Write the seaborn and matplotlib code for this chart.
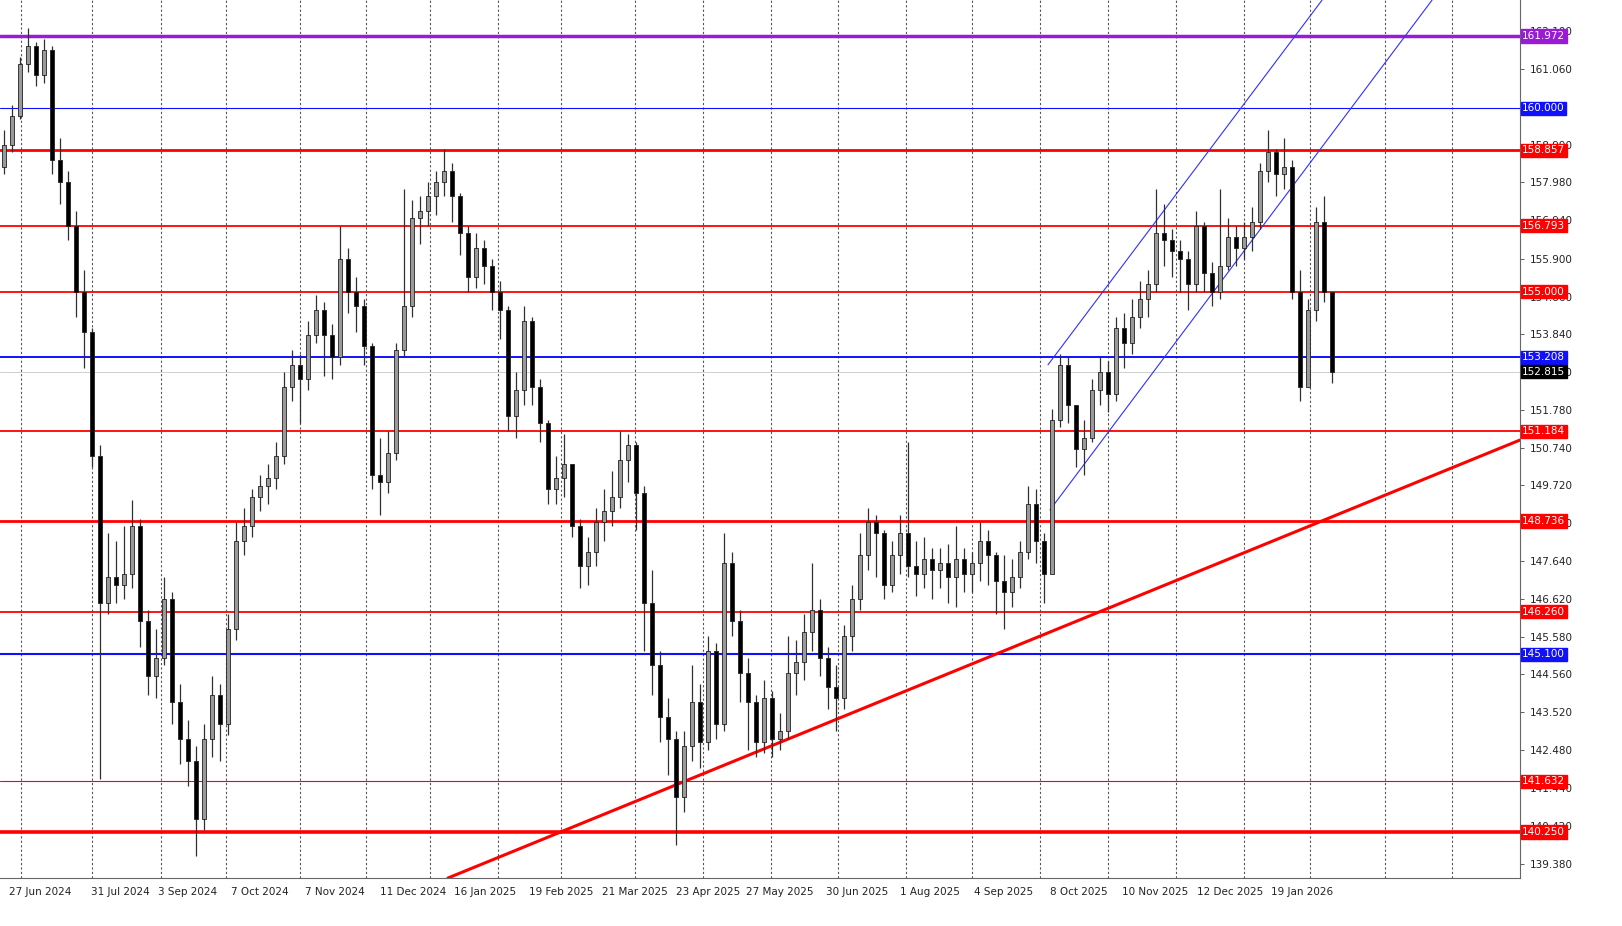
import numpy as np
import pandas as pd
import matplotlib
matplotlib.use("Agg")
import matplotlib.pyplot as plt
import matplotlib.transforms as mtransforms
import seaborn as sns

# candles (3-day bars), open = previous close
first_open = 158.4
closes = [159.0, 159.8, 161.2, 161.7, 160.9, 161.6, 158.6, 158.0, 156.8, 155.0,
          153.9, 150.5, 146.5, 147.2, 147.0, 147.3, 148.6, 146.0, 144.5, 145.0,
          146.6, 143.8, 142.8, 142.2, 140.6, 142.8, 144.0, 143.2, 145.8, 148.2,
          148.6, 149.4, 149.7, 149.9, 150.5, 152.4, 153.0, 152.6, 153.8, 154.5,
          153.8, 153.2, 155.9, 155.0, 154.6, 153.5, 150.0, 149.8, 150.6, 153.4,
          154.6, 157.0, 157.2, 157.6, 158.0, 158.3, 157.6, 156.6, 155.4, 156.2,
          155.7, 155.0, 154.5, 151.6, 152.3, 154.2, 152.4, 151.4, 149.6, 149.9,
          150.3, 148.6, 147.5, 147.9, 148.7, 149.0, 149.4, 150.4, 150.8, 149.5,
          146.5, 144.8, 143.4, 142.8, 141.2, 142.6, 143.8, 142.7, 145.2, 143.2,
          147.6, 146.0, 144.6, 143.8, 142.7, 143.9, 142.8, 143.0, 144.6, 144.9,
          145.7, 146.3, 145.0, 144.2, 143.9, 145.6, 146.6, 147.8, 148.7, 148.4,
          147.0, 147.8, 148.4, 147.5, 147.3, 147.7, 147.4, 147.6, 147.2, 147.7,
          147.3, 147.6, 148.2, 147.8, 147.1, 146.8, 147.2, 147.9, 149.2, 148.2,
          147.3, 151.5, 153.0, 151.9, 150.7, 151.0, 152.3, 152.8, 152.2, 154.0,
          153.6, 154.3, 154.8, 155.2, 156.6, 156.4, 156.1, 155.9, 155.2, 156.8,
          155.5, 155.0, 155.7, 156.5, 156.2, 156.5, 156.9, 158.3, 158.8, 158.2,
          158.4, 155.0, 152.4, 154.5, 156.9, 155.0, 152.815]
highs = [159.4, 160.1, 161.4, 162.2, 161.8, 161.9, 161.7, 159.2, 158.3, 157.2,
         155.6, 154.0, 150.8, 148.4, 148.2, 148.6, 149.3, 148.8, 146.3, 145.8,
         147.2, 146.8, 144.3, 143.3, 142.6, 143.2, 144.5, 144.3, 146.2, 148.7,
         149.1, 149.6, 150.0, 150.3, 150.9, 152.8, 153.4, 153.3, 154.2, 154.9,
         154.7, 154.1, 156.8, 156.2, 155.4, 154.8, 153.6, 151.0, 151.2, 153.6,
         157.8, 157.5, 157.6, 158.0, 158.3, 158.9, 158.5, 157.7, 156.8, 156.6,
         156.4, 155.9, 155.3, 154.6, 152.8, 154.6, 154.3, 152.6, 151.5, 150.5,
         151.1, 150.3, 148.8, 148.3, 149.1, 149.6, 150.1, 151.2, 151.1, 150.9,
         149.7, 147.4, 145.2, 143.9, 143.0, 143.0, 144.8, 144.3, 145.6, 145.4,
         148.4, 147.9, 146.3, 145.0, 144.0, 144.4, 144.1, 143.5, 145.6, 145.5,
         146.2, 147.6, 146.6, 145.3, 144.8, 145.9, 147.0, 148.4, 149.1, 148.9,
         148.5, 148.2, 148.9, 150.9, 148.2, 148.3, 148.0, 148.0, 148.1, 148.6,
         148.0, 147.9, 148.7, 148.5, 147.9, 147.8, 147.7, 148.2, 149.7, 149.6,
         148.4, 151.8, 153.3, 153.2, 151.8, 151.5, 152.6, 153.2, 153.1, 154.3,
         154.4, 154.8, 155.3, 155.6, 157.8, 157.4, 156.7, 156.4, 156.1, 157.2,
         156.9, 155.8, 157.8, 157.0, 156.8, 156.9, 157.3, 158.5, 159.4, 158.9,
         159.2, 158.6, 155.6, 154.8, 157.3, 157.6, 154.0]
lows = [158.2, 158.8, 159.7, 161.0, 160.6, 160.7, 158.2, 157.4, 156.4, 154.3,
        152.9, 150.2, 141.7, 146.2, 146.5, 146.6, 146.9, 145.3, 144.0, 143.9,
        144.8, 143.2, 142.1, 141.5, 139.6, 140.3, 142.3, 142.2, 142.9, 145.5,
        147.8, 148.3, 149.0, 149.2, 149.6, 150.3, 152.0, 151.4, 152.3, 153.6,
        152.7, 152.6, 153.0, 154.4, 153.9, 153.0, 149.6, 148.9, 149.5, 150.4,
        153.2, 154.3, 156.3, 156.8, 157.1, 157.6, 156.9, 156.0, 155.0, 155.1,
        155.2, 154.5, 153.7, 151.2, 151.0, 151.9, 151.9, 150.9, 149.2, 149.2,
        149.4, 148.3, 146.9, 147.0, 147.5, 148.2, 148.6, 149.1, 149.8, 148.5,
        145.2, 144.0, 142.7, 141.8, 139.9, 140.8, 142.2, 142.0, 142.5, 142.8,
        143.0, 145.6, 143.8, 142.5, 142.3, 142.4, 142.3, 142.5, 142.8, 144.0,
        144.4, 145.2, 144.5, 143.6, 143.0, 143.6, 145.2, 146.3, 147.4, 147.2,
        146.6, 146.8, 147.3, 147.2, 146.7, 146.9, 146.6, 146.9, 146.5, 146.4,
        146.8, 146.8, 147.1, 147.0, 146.2, 145.8, 146.4, 146.9, 147.7, 147.6,
        146.5, 149.0, 151.3, 151.4, 150.2, 150.0, 150.9, 151.9, 151.7, 152.0,
        152.9, 153.3, 154.0, 154.3, 155.0, 155.7, 155.4, 155.0, 154.5, 155.0,
        155.0, 154.6, 154.8, 155.6, 155.7, 155.9, 156.1, 156.7, 158.0, 157.6,
        157.8, 154.8, 152.0, 152.6, 154.2, 154.7, 152.5]

# horizontal levels: value, colour, width
level_values = [161.972, 160.000, 158.857, 156.793, 155.000, 153.208, 152.815,
                151.184, 148.736, 146.260, 145.100, 141.632, 140.250]
level_colors = ['#9a1bd6', '#1010ff', '#ff0000', '#ff0000', '#ff0000', '#1010ff', '#000000',
                '#ff0000', '#ff0000', '#ff0000', '#1010ff', '#ff0000', '#ff0000']
level_widths = [2.5, 0.8, 2.0, 1.3, 1.3, 1.4, 0.6, 1.3, 2.0, 1.3, 1.5, 0.8, 2.6]

price_ticks = [162.100, 161.060, 158.990, 157.980, 156.940, 155.900, 154.860, 153.840,
               152.800, 151.780, 150.740, 149.720, 148.680, 147.640, 146.620, 145.580,
               144.560, 143.520, 142.480, 141.440, 140.420, 139.380]

date_labels = ['27 Jun 2024', '31 Jul 2024', '3 Sep 2024', '7 Oct 2024', '7 Nov 2024',
               '11 Dec 2024', '16 Jan 2025', '19 Feb 2025', '21 Mar 2025', '23 Apr 2025',
               '27 May 2025', '30 Jun 2025', '1 Aug 2025', '4 Sep 2025', '8 Oct 2025',
               '10 Nov 2025', '12 Dec 2025', '19 Jan 2026']
date_pos = [4.5, 14.5, 22.9, 32.0, 41.4, 51.1, 60.1, 69.6, 78.8, 88.0,
            97.0, 106.6, 115.8, 124.9, 134.3, 143.9, 153.3, 162.3]
grid_pos = [2.1, 11.0, 19.6, 27.8, 37.0, 45.3, 53.3, 61.8, 69.6, 78.9, 87.4,
            95.9, 104.3, 112.8, 121.0, 129.5, 138.0, 146.5, 155.0, 163.3, 172.6, 181.0]

# trend line and channel (bar index, price)
trend = ([55.5, 189.5], [138.995, 150.947])
chan_upper = ([130.5, 164.75], [153.0, 162.95])
chan_lower = ([130.75, 178.5], [149.04, 162.95])

df = pd.DataFrame({'close': closes, 'high': highs, 'low': lows})
df['open'] = [first_open] + closes[:-1]
df['idx'] = np.arange(len(df))
df['bull'] = df['close'] >= df['open']

sns.set_style("white")
plt.rcParams['font.family'] = ['DejaVu Sans']

fig = plt.figure(figsize=(16.22, 9.26), dpi=100)
ax = fig.add_axes([0, 878 / 926 * 0 + 48 / 926, 1520 / 1622, 878 / 926])
ax.set_xlim(-0.5, 189.5)
ax.set_ylim(138.995, 162.955)

for g in grid_pos:
    ax.axvline(g, color='#555555', lw=0.8, ls=(0, (2, 2)), zorder=1)

for v, c, w in zip(level_values, level_colors, level_widths):
    if v == 152.815:
        c = '#c8c8c8'
    ax.axhline(v, color=c, lw=w, zorder=2)

ax.plot(*trend, color='#ff0000', lw=2.2, zorder=2)
ax.plot(*chan_upper, color='#3030ff', lw=0.8, zorder=2)
ax.plot(*chan_lower, color='#3030ff', lw=0.8, zorder=2)

# wicks and bodies
ax.vlines(df['idx'], df['low'], df['high'], color='#303030', lw=0.9, zorder=3)
body_lo = df[['open', 'close']].min(axis=1)
body_h = (df['close'] - df['open']).abs().clip(lower=0.04)
ax.bar(df['idx'], body_h, bottom=body_lo, width=0.62,
       color=np.where(df['bull'], '#9a9a9a', '#000000'),
       edgecolor='#202020', linewidth=0.6, zorder=4)

# right price axis
ax.yaxis.tick_right()
ax.set_yticks(price_ticks)
ax.set_yticklabels([f'{t:.3f}' for t in price_ticks], fontsize=7.5, color='#222222')
ax.tick_params(axis='y', length=3, width=0.6, pad=4, color='#444444')
ax.set_xticks([])
for s in ['top', 'left']:
    ax.spines[s].set_visible(False)
ax.spines['right'].set_color('#666666')
ax.spines['bottom'].set_color('#666666')

trans = mtransforms.blended_transform_factory(ax.transAxes, ax.transData)
for v, c in zip(level_values, level_colors):
    ax.text(1.0015, v, f'{v:.3f}', transform=trans, fontsize=7.5, color='white',
            va='center', ha='left', zorder=10, clip_on=False,
            bbox=dict(boxstyle='square,pad=0.15', facecolor=c, edgecolor=c))

dtrans = mtransforms.blended_transform_factory(ax.transData, ax.transAxes)
for lab, p in zip(date_labels, date_pos):
    ax.text(p, -0.01, lab, transform=dtrans, fontsize=7.5, color='#222222',
            ha='center', va='top', clip_on=False)

fig.savefig('out.png', dpi=100, facecolor='white')
